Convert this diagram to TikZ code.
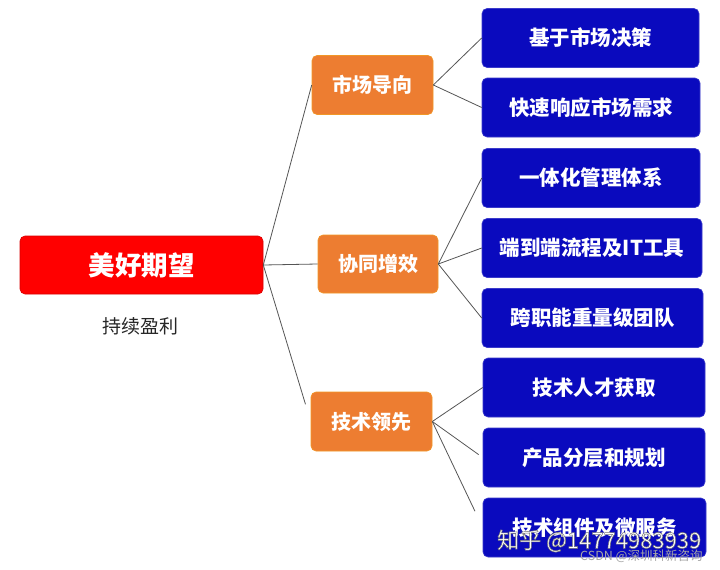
\documentclass[tikz,border=0pt]{standalone}
\usepackage{fontspec}
\setmainfont{Noto Sans CJK SC}
\newfontfamily\cjkb{Noto Sans CJK SC Black}
\definecolor{rootred}{HTML}{FF0000}
\definecolor{midorange}{HTML}{ED7D31}
\definecolor{leafblue}{HTML}{0A0ABE}
\definecolor{linegray}{HTML}{555555}
\newcommand{\outlinedtext}[1]{\special{pdf:literal direct 2 Tr 0.5 w 0.45 G}#1\special{pdf:literal direct 0 Tr}}
\tikzset{
  rootbox/.style={fill=rootred, draw=rootred!85!black, line width=0.6pt, rounded corners=5pt,
    minimum width=243pt, minimum height=58pt, inner sep=0pt,
    text=white, font=\cjkb\fontsize{26.5}{26.5}\selectfont},
  midbox/.style={fill=midorange, draw=midorange!80!yellow, line width=0.6pt, rounded corners=5pt,
    minimum width=121pt, minimum height=59pt, inner sep=0pt,
    text=white, font=\cjkb\fontsize{20}{20}\selectfont},
  leafbox/.style={fill=leafblue, draw=leafblue!80!white, line width=0.6pt, rounded corners=5pt,
    minimum height=59pt, inner sep=0pt,
    text=white, font=\cjkb\fontsize{20.5}{20.5}\selectfont},
  link/.style={draw=linegray, line width=0.8pt},
  wm/.style={inner sep=0pt, anchor=west}
}
\begin{document}
\begin{tikzpicture}[x=1pt, y=-1pt]
\useasboundingbox (0,0) rectangle (720,570);
\fill[white] (0,0) rectangle (720,570);

% root
\node[rootbox] (root) at (141.5,265) {美好期望};
\node[inner sep=0pt, font=\fontsize{19}{19}\selectfont, text=black!85] (sub) at (140,326) {持续盈利};

% middle
\node[midbox] (m1) at (372.5,85) {市场导向};
\node[midbox, minimum width=120pt, minimum height=58pt] (m2) at (378,264) {协同增效};
\node[midbox] (m3) at (371.5,421.5) {技术领先};

% leaves
\node[leafbox, minimum width=217pt] (l1) at (590.5,38) {基于市场决策};
\node[leafbox, minimum width=218pt] (l2) at (591,107.5) {快速响应市场需求};
\node[leafbox, minimum width=218pt] (l3) at (591,178) {一体化管理体系};
\node[leafbox, minimum width=220pt] (l4) at (592,248) {端到端流程及IT工具};
\node[leafbox, minimum width=221pt] (l5) at (592.5,318) {跨职能重量级团队};
\node[leafbox, minimum width=222pt] (l6) at (594,387.5) {技术人才获取};
\node[leafbox, minimum width=222pt] (l7) at (594,457.5) {产品分层和规划};
\node[leafbox, minimum width=223pt] (l8) at (594.5,527.5) {技术组件及微服务};

% connectors
\draw[link] (root.east) -- (m1.west);
\draw[link] (root.east) -- (m2.west);
\draw[link, shorten >=18pt] (root.east) -- (m3.west);
\draw[link] (m1.east) -- (l1.west);
\draw[link] (m1.east) -- (l2.west);
\draw[link] (m2.east) -- (l3.west);
\draw[link] (m2.east) -- (l4.west);
\draw[link] (m2.east) -- (l5.west);
\draw[link] (m3.east) -- (l6.west);
\draw[link, shorten >=5pt] (m3.east) -- (l7.west);
\draw[link, shorten >=18pt] (m3.east) -- (l8.west);

% watermarks
\node[wm, font=\fontsize{22}{22}\selectfont, text=white] (wm1) at (497,541) {\outlinedtext{知乎 @14774983939}};
\node[wm, font=\fontsize{12.5}{12.5}\selectfont, text=black!35] (wm2) at (580,556) {CSDN @深圳科新咨询};
\end{tikzpicture}
\end{document}
